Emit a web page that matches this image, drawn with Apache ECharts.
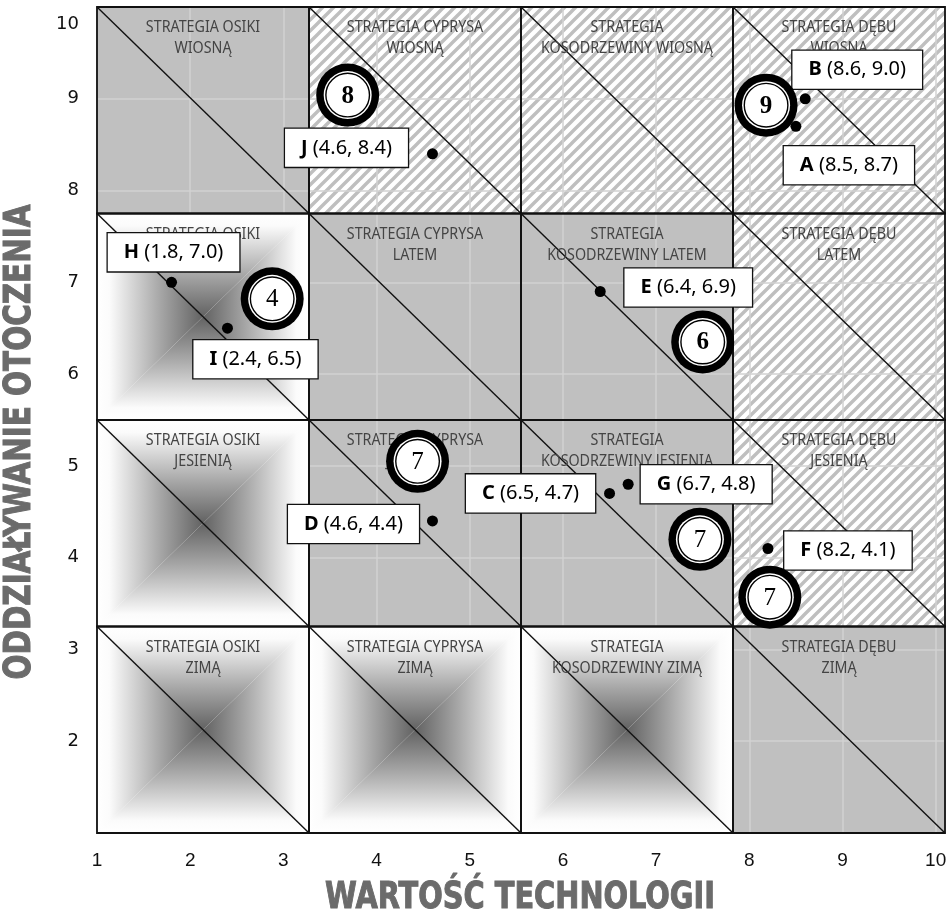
<!DOCTYPE html>
<html><head><meta charset="utf-8">
<script src="https://cdn.jsdelivr.net/npm/echarts@6/dist/echarts.min.js"></script>
<style>html,body{margin:0;padding:0;background:#fff}#c{width:950px;height:918px}</style>
</head><body><div id="c"></div>
<script>
// ---------- data ----------
const xTicks = [1, 2, 3, 4, 5, 6, 7, 8, 9, 10];
const yTicks = [2, 3, 4, 5, 6, 7, 8, 9, 10];
const colEdges = [1, 3.275, 5.55, 7.825, 10.1];
const rowEdges = [10, 7.75, 5.5, 3.25, 1]; // top to bottom
const cellLabels = [
  ['STRATEGIA OSIKI\nWIOSNĄ', 'STRATEGIA CYPRYSA\nWIOSNĄ', 'STRATEGIA\nKOSODRZEWINY WIOSNĄ', 'STRATEGIA DĘBU\nWIOSNĄ'],
  ['STRATEGIA OSIKI\nLATEM', 'STRATEGIA CYPRYSA\nLATEM', 'STRATEGIA\nKOSODRZEWINY LATEM', 'STRATEGIA DĘBU\nLATEM'],
  ['STRATEGIA OSIKI\nJESIENIĄ', 'STRATEGIA CYPRYSA\nJESIENIĄ', 'STRATEGIA\nKOSODRZEWINY JESIENIĄ', 'STRATEGIA DĘBU\nJESIENIĄ'],
  ['STRATEGIA OSIKI\nZIMĄ', 'STRATEGIA CYPRYSA\nZIMĄ', 'STRATEGIA\nKOSODRZEWINY ZIMĄ', 'STRATEGIA DĘBU\nZIMĄ']
];
const cellFills = [
  ['gray', 'hatch', 'hatch', 'hatch'],
  ['gradient', 'gray', 'gray', 'hatch'],
  ['gradient', 'gray', 'gray', 'hatch'],
  ['gradient', 'gradient', 'gradient', 'gray']
];
const pointNames = ['A', 'B', 'C', 'D', 'E', 'F', 'G', 'H', 'I', 'J'];
const pointX = [8.5, 8.6, 6.5, 4.6, 6.4, 8.2, 6.7, 1.8, 2.4, 4.6];
const pointY = [8.7, 9.0, 4.7, 4.4, 6.9, 4.1, 4.8, 7.0, 6.5, 8.4];
const badgeValues = [8, 9, 4, 6, 7, 7, 7];
const badgeX = [3.69, 8.18, 2.88, 7.50, 4.44, 7.47, 8.22];
const badgeY = [9.04, 8.93, 6.82, 6.35, 5.05, 4.20, 3.57];

// ---------- layout / style ----------
const labelOffsets = { A: [53, 39], B: [52, -29], C: [-79, 0], D: [-79, 3], E: [88, -4], F: [80, 2], G: [78, 0], H: [2, -30], I: [28, 31], J: [-86, -6] };
const badgeBold = [true, true, false, true, false, false, false];
const FONT = '"Noto Sans", "Open Sans", sans-serif';
const TITLE_FONT = 'bold 38px "DejaVu Sans Condensed", "DejaVu Sans", sans-serif';

// hatch pattern
const pc = document.createElement('canvas');
pc.width = 11; pc.height = 11;
(function () {
  const g = pc.getContext('2d');
  g.fillStyle = '#ffffff'; g.fillRect(0, 0, 11, 11);
  g.strokeStyle = '#bfbfbf'; g.lineWidth = 3.4; g.beginPath();
  g.moveTo(-3, 14); g.lineTo(14, -3);
  g.moveTo(-3, 3); g.lineTo(3, -3);
  g.moveTo(8, 14); g.lineTo(14, 8);
  g.stroke();
})();
const hatchFill = { image: pc, repeat: 'repeat' };

function measure(text, font) {
  const c = document.createElement('canvas').getContext('2d');
  c.font = font; return c.measureText(text).width;
}

const cells = [];
for (let r = 0; r < 4; r++) for (let c = 0; c < 4; c++) cells.push([c, r]);

function cellRect(api, c, r) {
  const p1 = api.coord([colEdges[c], rowEdges[r]]);
  const p2 = api.coord([colEdges[c + 1], rowEdges[r + 1]]);
  return { x: p1[0], y: p1[1], w: p2[0] - p1[0], h: p2[1] - p1[1] };
}

function grad(x, y, x2, y2) {
  return new echarts.graphic.LinearGradient(x, y, x2, y2, [
    { offset: 0, color: '#ffffff' },
    { offset: 0.12, color: '#fbfbfb' },
    { offset: 0.6, color: '#a6a6a6' },
    { offset: 1, color: '#626262' }
  ]);
}

const chart = echarts.init(document.getElementById('c'));

const xTitle = 'WARTOŚĆ TECHNOLOGII';
const yTitle = 'ODDZIAŁYWANIE OTOCZENIA';
const xTitleScale = 390 / measure(xTitle, TITLE_FONT);
const yTitleScale = 475 / measure(yTitle, TITLE_FONT);

const option = {
  animation: false,
  backgroundColor: '#ffffff',
  grid: { left: 97, right: 5, top: 7, bottom: 85, containLabel: false },
  xAxis: {
    type: 'value', min: 1, max: 10.1, interval: 1, z: 2,
    axisLine: { show: false }, axisTick: { show: false },
    splitLine: { show: true, lineStyle: { color: '#d2d2d2', width: 1.5 } },
    axisLabel: {
      showMaxLabel: false, margin: 18, fontSize: 19, color: '#111',
      fontFamily: '"Liberation Sans", sans-serif',
      formatter: v => (xTicks.indexOf(v) >= 0 ? String(v) : '')
    }
  },
  yAxis: {
    type: 'value', min: 1, max: 10, interval: 1, z: 2,
    axisLine: { show: false }, axisTick: { show: false },
    splitLine: { show: true, lineStyle: { color: '#d2d2d2', width: 1.5 } },
    axisLabel: {
      showMinLabel: false, margin: 18, fontSize: 18, color: '#111',
      fontFamily: '"DejaVu Sans", sans-serif', verticalAlignMaxLabel: 'top',
      formatter: v => (v === 10 ? '{t|10}' : (yTicks.indexOf(v) >= 0 ? String(v) : '')),
      rich: { t: { fontSize: 18, fontFamily: '"DejaVu Sans", sans-serif', color: '#111', padding: [8, 0, 0, 0] } }
    }
  },
  graphic: [
    { type: 'text', x: 520, y: 898, scaleX: xTitleScale, z: 10,
      style: { text: xTitle, font: TITLE_FONT, fill: '#6b6b6b', stroke: '#6b6b6b', lineWidth: 1, align: 'center', verticalAlign: 'middle' } },
    { type: 'text', x: 20, y: 442, rotation: Math.PI / 2, scaleX: yTitleScale, z: 10,
      style: { text: yTitle, font: TITLE_FONT, fill: '#6b6b6b', stroke: '#6b6b6b', lineWidth: 1, align: 'center', verticalAlign: 'middle' } }
  ],
  series: [
    { // base fills
      type: 'custom', z: 1, silent: true, data: cells,
      renderItem: (params, api) => {
        const c = api.value(0), r = api.value(1);
        const R = cellRect(api, c, r);
        const t = cellFills[r][c];
        const fill = t === 'gray' ? '#c0c0c0' : t === 'hatch' ? hatchFill : '#ffffff';
        return { type: 'rect', shape: { x: R.x, y: R.y, width: R.w, height: R.h }, style: { fill: fill } };
      }
    },
    { // pyramid gradients (above grid lines)
      type: 'custom', z: 3, silent: true, data: cells,
      renderItem: (params, api) => {
        const c = api.value(0), r = api.value(1);
        if (cellFills[r][c] !== 'gradient') return null;
        const R = cellRect(api, c, r);
        const tl = [R.x, R.y], tr = [R.x + R.w, R.y], bl = [R.x, R.y + R.h], br = [R.x + R.w, R.y + R.h];
        const ce = [R.x + R.w / 2, R.y + R.h / 2];
        return {
          type: 'group', children: [
            { type: 'rect', shape: { x: R.x, y: R.y, width: R.w, height: R.h }, style: { fill: '#ffffff' } },
            { type: 'polygon', shape: { points: [tl, tr, ce] }, style: { fill: grad(0, 0, 0, 1), stroke: null } },
            { type: 'polygon', shape: { points: [bl, br, ce] }, style: { fill: grad(0, 1, 0, 0), stroke: null } },
            { type: 'polygon', shape: { points: [tl, bl, ce] }, style: { fill: grad(0, 0, 1, 0), stroke: null } },
            { type: 'polygon', shape: { points: [tr, br, ce] }, style: { fill: grad(1, 0, 0, 0), stroke: null } }
          ]
        };
      }
    },
    { // frames, diagonals, cell titles
      type: 'custom', z: 4, silent: true, data: cells,
      renderItem: (params, api) => {
        const c = api.value(0), r = api.value(1);
        const R = cellRect(api, c, r);
        return {
          type: 'group', children: [
            { type: 'line', shape: { x1: R.x, y1: R.y, x2: R.x + R.w, y2: R.y + R.h }, style: { stroke: '#111', lineWidth: 1.4 } },
            { type: 'rect', shape: { x: R.x, y: R.y, width: R.w, height: R.h }, style: { fill: null, stroke: '#111', lineWidth: 1.8 } },
            { type: 'text', x: R.x + R.w / 2, y: R.y + 10, scaleX: 0.84,
              style: { text: cellLabels[r][c], fill: '#444444', font: '17px ' + FONT, align: 'center', verticalAlign: 'top', lineHeight: 21 } }
          ]
        };
      }
    },
    { // points with label boxes
      type: 'custom', z: 5, silent: true,
      data: pointX.map((x, i) => [x, pointY[i], i]),
      renderItem: (params, api) => {
        const x = api.value(0), y = api.value(1), i = api.value(2);
        const p = api.coord([x, y]);
        const name = pointNames[i];
        const off = labelOffsets[name];
        return {
          type: 'group', children: [
            { type: 'text', x: p[0] + off[0], y: p[1] + off[1],
              style: {
                text: '{b|' + name + '} (' + x.toFixed(1) + ', ' + y.toFixed(1) + ')',
                rich: { b: { fontWeight: 'bold', fontSize: 20, fontFamily: FONT, fill: '#000' } },
                fontSize: 20, fontFamily: FONT, fill: '#000',
                align: 'center', verticalAlign: 'middle',
                backgroundColor: '#ffffff', borderColor: '#111', borderWidth: 1.3, padding: [9, 16]
              } },
            { type: 'circle', shape: { cx: p[0], cy: p[1], r: 5.5 }, style: { fill: '#000' } }
          ]
        };
      }
    },
    { // numbered badges
      type: 'custom', z: 6, silent: true,
      data: badgeX.map((x, i) => [x, badgeY[i], i]),
      renderItem: (params, api) => {
        const i = api.value(2);
        const p = api.coord([api.value(0), api.value(1)]);
        return {
          type: 'group', children: [
            { type: 'circle', shape: { cx: p[0], cy: p[1], r: 31.5 }, style: { fill: '#000' } },
            { type: 'circle', shape: { cx: p[0], cy: p[1], r: 24 }, style: { fill: '#fff' } },
            { type: 'circle', shape: { cx: p[0], cy: p[1], r: 21.8 }, style: { fill: '#fff', stroke: '#000', lineWidth: 1.4 } },
            { type: 'text', x: p[0], y: p[1] + 1,
              style: { text: String(badgeValues[i]), font: (badgeBold[i] ? 'bold ' : '') + '25px "Liberation Serif", "DejaVu Serif", serif',
                fill: '#000', align: 'center', verticalAlign: 'middle' } }
          ]
        };
      }
    }
  ]
};
chart.setOption(option);
</script></body></html>
